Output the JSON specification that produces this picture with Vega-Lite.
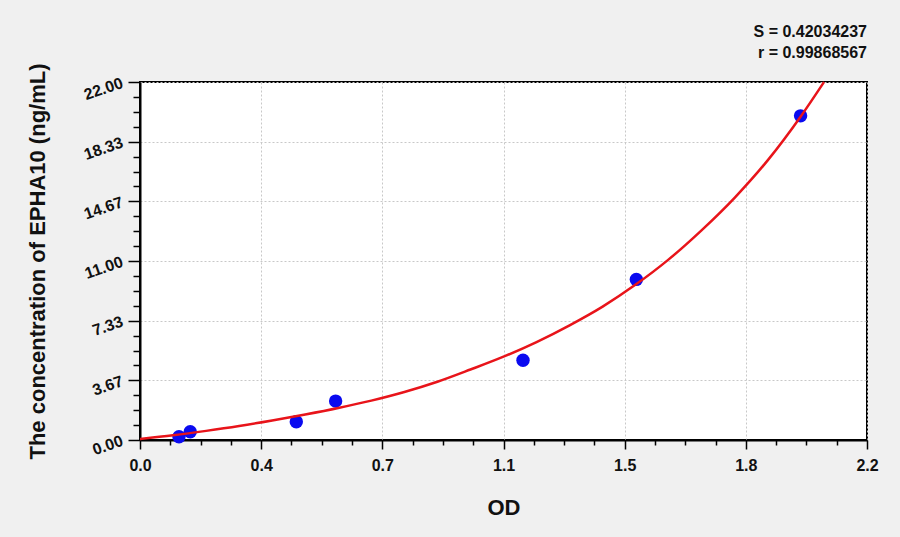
{
  "$schema": "https://vega.github.io/schema/vega-lite/v6.json",
  "autosize": {"type": "none"},
  "width": 727,
  "height": 358,
  "padding": {"left": 140, "top": 82, "right": 33, "bottom": 97},
  "background": "#f0f0f0",
  "title": {
    "text": ["S = 0.42034237", "r = 0.99868567"],
    "anchor": "end",
    "frame": "group",
    "font": "Liberation Sans",
    "fontSize": 16,
    "fontWeight": "bold",
    "color": "#111111",
    "lineHeight": 21,
    "offset": 2
  },
  "datasets": {
    "points": [
      {"od": 0.118, "conc": 0.20},
      {"od": 0.152, "conc": 0.51},
      {"od": 0.473, "conc": 1.12},
      {"od": 0.592, "conc": 2.39},
      {"od": 1.159, "conc": 4.90},
      {"od": 1.502, "conc": 9.87},
      {"od": 1.999, "conc": 19.92}
    ],
    "curve": [
      {"od": 0.0, "conc": 0.06},
      {"od": 0.1, "conc": 0.29},
      {"od": 0.2, "conc": 0.56},
      {"od": 0.3, "conc": 0.86},
      {"od": 0.4, "conc": 1.20},
      {"od": 0.5, "conc": 1.57},
      {"od": 0.6, "conc": 1.97},
      {"od": 0.7, "conc": 2.42},
      {"od": 0.8, "conc": 2.95},
      {"od": 0.9, "conc": 3.58},
      {"od": 1.0, "conc": 4.33},
      {"od": 1.1, "conc": 5.12},
      {"od": 1.2, "conc": 6.02},
      {"od": 1.3, "conc": 7.05},
      {"od": 1.4, "conc": 8.2},
      {"od": 1.5, "conc": 9.55},
      {"od": 1.6, "conc": 11.1},
      {"od": 1.7, "conc": 12.9},
      {"od": 1.8, "conc": 14.9},
      {"od": 1.9, "conc": 17.2},
      {"od": 2.0, "conc": 19.9},
      {"od": 2.07, "conc": 22.0}
    ]
  },
  "encoding": {
    "x": {
      "field": "od",
      "type": "quantitative",
      "scale": {"domain": [0, 2.2], "nice": false, "zero": false},
      "axis": {
        "title": "OD",
        "titleFontSize": 22,
        "titlePadding": 24,
        "values": [0, 0.0916667, 0.1833333, 0.275, 0.3666667, 0.4583333, 0.55, 0.6416667, 0.7333333, 0.825, 0.9166667, 1.0083333, 1.1, 1.1916667, 1.2833333, 1.375, 1.4666667, 1.5583333, 1.65, 1.7416667, 1.8333333, 1.925, 2.0166667, 2.1083333, 2.2],
        "labelExpr": "abs(datum.value / 0.3666667 - round(datum.value / 0.3666667)) < 0.01 ? format(datum.value, '.1f') : ''",
        "tickSize": {"condition": {"test": "abs(datum.value / 0.3666667 - round(datum.value / 0.3666667)) < 0.01", "value": 9}, "value": 5},
        "gridOpacity": {"condition": {"test": "abs(datum.value / 0.3666667 - round(datum.value / 0.3666667)) < 0.01", "value": 1}, "value": 0},
        "labelPadding": 8
      }
    },
    "y": {
      "field": "conc",
      "type": "quantitative",
      "scale": {"domain": [0, 22], "nice": false, "zero": false},
      "axis": {
        "title": "The concentration of EPHA10 (ng/mL)",
        "titleFontSize": 22,
        "titlePadding": 32,
        "values": [0, 0.9166667, 1.8333333, 2.75, 3.6666667, 4.5833333, 5.5, 6.4166667, 7.3333333, 8.25, 9.1666667, 10.0833333, 11, 11.9166667, 12.8333333, 13.75, 14.6666667, 15.5833333, 16.5, 17.4166667, 18.3333333, 19.25, 20.1666667, 21.0833333, 22],
        "labelExpr": "abs(datum.value / 3.6666667 - round(datum.value / 3.6666667)) < 0.01 ? format(datum.value, '.2f') : ''",
        "tickSize": {"condition": {"test": "abs(datum.value / 3.6666667 - round(datum.value / 3.6666667)) < 0.01", "value": 12}, "value": 7},
        "gridOpacity": {"condition": {"test": "abs(datum.value / 3.6666667 - round(datum.value / 3.6666667)) < 0.01", "value": 1}, "value": 0},
        "labelAngle": -19,
        "labelAlign": "right",
        "labelBaseline": "middle",
        "labelPadding": 6
      }
    }
  },
  "layer": [
    {
      "data": {"name": "points"},
      "mark": {"type": "point", "shape": "circle", "filled": true, "size": 180, "color": "#0a0af0", "opacity": 1}
    },
    {
      "data": {"name": "curve"},
      "mark": {"type": "line", "color": "#e8141a", "strokeWidth": 2.5, "interpolate": "monotone", "clip": false}
    }
  ],
  "config": {
    "font": "Liberation Sans",
    "view": {"stroke": "#000000", "strokeWidth": 2, "fill": "#ffffff"},
    "axis": {
      "labelFont": "Liberation Sans",
      "labelFontSize": 16,
      "labelFontWeight": "bold",
      "labelColor": "#111111",
      "labelOverlap": false,
      "labelBound": false,
      "labelFlush": false,
      "titleFont": "Liberation Sans",
      "titleFontWeight": "bold",
      "titleColor": "#111111",
      "domainColor": "#000000",
      "domainWidth": 2,
      "tickColor": "#000000",
      "tickWidth": 1.5,
      "grid": true,
      "gridColor": "#c8c8c8",
      "gridDash": [2, 2],
      "gridWidth": 1
    }
  }
}
